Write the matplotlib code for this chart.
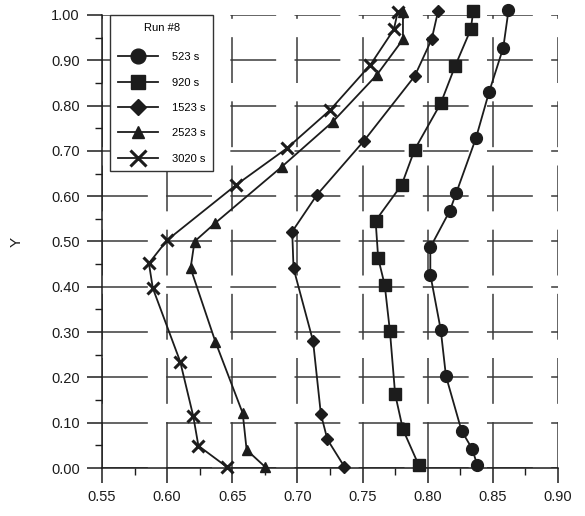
import matplotlib
matplotlib.use("Agg")
import matplotlib.pyplot as plt
from matplotlib.ticker import MultipleLocator

y_523 = [1.01, 0.928, 0.829, 0.728, 0.608, 0.568, 0.487, 0.427, 0.305, 0.203, 0.082, 0.043, 0.007]
x_523 = [0.862, 0.858, 0.847, 0.837, 0.822, 0.817, 0.802, 0.802, 0.810, 0.814, 0.826, 0.834, 0.838]

y_920 = [1.009, 0.968, 0.887, 0.805, 0.703, 0.625, 0.546, 0.463, 0.404, 0.302, 0.163, 0.085, 0.007]
x_920 = [0.835, 0.833, 0.821, 0.810, 0.790, 0.780, 0.760, 0.762, 0.767, 0.771, 0.775, 0.781, 0.793]

y_1523 = [1.009, 0.946, 0.865, 0.722, 0.603, 0.522, 0.441, 0.280, 0.119, 0.063, 0.003]
x_1523 = [0.808, 0.803, 0.790, 0.751, 0.715, 0.696, 0.697, 0.712, 0.718, 0.723, 0.736]

y_2523 = [1.007, 0.946, 0.868, 0.764, 0.665, 0.541, 0.500, 0.441, 0.279, 0.121, 0.040, 0.003]
x_2523 = [0.781, 0.781, 0.761, 0.727, 0.688, 0.637, 0.621, 0.618, 0.637, 0.658, 0.661, 0.675]

y_3020 = [1.007, 0.968, 0.890, 0.790, 0.706, 0.625, 0.503, 0.452, 0.397, 0.235, 0.115, 0.049, 0.002]
x_3020 = [0.777, 0.774, 0.756, 0.725, 0.692, 0.653, 0.600, 0.586, 0.589, 0.610, 0.620, 0.624, 0.646]

labels = ["523 s", "920 s", "1523 s", "2523 s", "3020 s"]

plt.rcParams["font.family"] = ["Liberation Sans", "DejaVu Sans"]

ink = "#1c1c1c"

fig = plt.figure(figsize=(5.85, 5.16), dpi=100)
ax = fig.add_axes([102 / 585, 1 - 468 / 516, 456 / 585, 453 / 516])

series = [
    (x_523, y_523, "o", 8.5),
    (x_920, y_920, "s", 8),
    (x_1523, y_1523, "D", 6.5),
    (x_2523, y_2523, "^", 7),
    (x_3020, y_3020, "x", 9),
]
for (xs, ys, m, ms), lab in zip(series, labels):
    ax.plot(xs, ys, color=ink, lw=1.3, marker=m, ms=ms, mew=2.2 if m == "x" else 1,
            mfc=ink, mec=ink, label=lab, clip_on=False, zorder=3)

ax.set_xlim(0.55, 0.90)
ax.set_ylim(0.0, 1.0)
ax.xaxis.set_major_locator(MultipleLocator(0.05))
ax.xaxis.set_minor_locator(MultipleLocator(0.025))
ax.yaxis.set_major_locator(MultipleLocator(0.1))
ax.yaxis.set_minor_locator(MultipleLocator(0.05))
ax.xaxis.set_major_formatter(plt.FormatStrFormatter("%.2f"))
ax.yaxis.set_major_formatter(plt.FormatStrFormatter("%.2f"))

ax.grid(True, which="major", color="#3a3a3a", lw=1.1, linestyle=(0, (30, 12)))
for s in ["top", "right"]:
    ax.spines[s].set_visible(False)
for s in ["left", "bottom"]:
    ax.spines[s].set_color(ink)
    ax.spines[s].set_linewidth(1.1)

ax.tick_params(which="major", length=11, width=1.1, color=ink, labelsize=10.5, labelcolor=ink, pad=5)
ax.tick_params(which="minor", length=5, width=1.0, color=ink)
ax.set_ylabel("Y", fontsize=11, color=ink, labelpad=20)

leg = ax.legend(title="Run #8", loc="upper left", bbox_to_anchor=(110 / 585, 1 - 15 / 516),
                bbox_transform=fig.transFigure, borderaxespad=0, fontsize=8,
                title_fontsize=8, handlelength=3.6, handletextpad=1.3,
                labelspacing=1.38, fancybox=False, framealpha=1, edgecolor="#333333",
                borderpad=0.7, markerscale=1.25)
leg.get_frame().set_linewidth(1.0)
leg._legend_box.sep = 14

fig.savefig("out.png", dpi=100)
